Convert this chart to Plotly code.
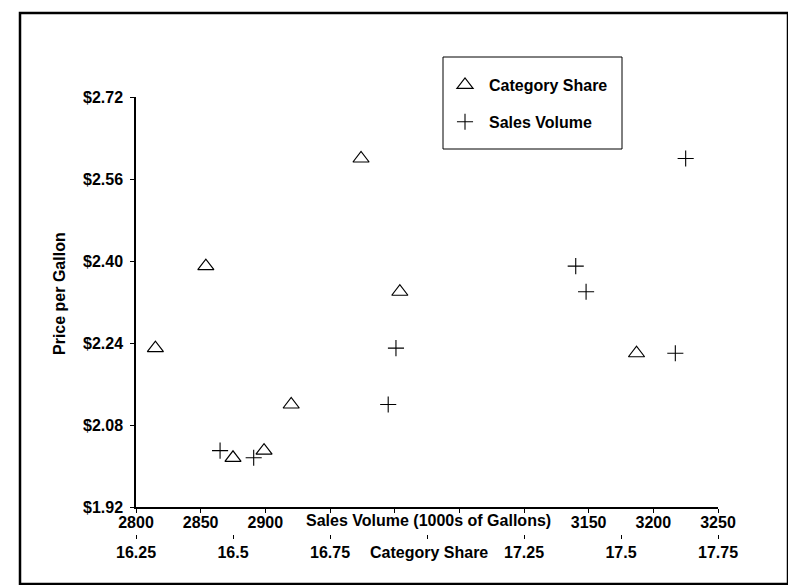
import plotly.graph_objects as go

# ---- data ----
price_per_gallon = [2.60, 2.39, 2.34, 2.23, 2.22, 2.12, 2.03, 2.016]
category_share = [16.83, 16.43, 16.93, 16.30, 17.54, 16.65, 16.58, 16.50]
sales_volume = [3225, 3140, 3148, 3001, 3217, 2995, 2865, 2891]

sales_tick_values = [2800, 2850, 2900, 2950, 3000, 3050, 3100, 3150, 3200, 3250]
sales_tick_labels = ["2800", "2850", "2900", "", "", "", "", "3150", "3200", "3250"]
share_tick_values = [16.25, 16.5, 16.75, 17.0, 17.25, 17.5, 17.75]
share_tick_labels = ["16.25", "16.5", "16.75", "", "17.25", "17.5", "17.75"]
price_tick_values = [1.92, 2.08, 2.24, 2.40, 2.56, 2.72]
price_tick_labels = ["$1.92", "$2.08", "$2.24", "$2.40", "$2.56", "$2.72"]

FONT = "Liberation Sans, Arial, Helvetica, sans-serif"
fs = 16

# page body has an 8px margin; layout numbers below are window pixels
OFF = 8
LEFT, RIGHT, TOP, YBOT, B = 136, 718, 97, 507, 534
W = RIGHT - LEFT
H = B - TOP


def px(x):
    return (x - LEFT) / W


def py(y):
    return (B - y) / H


fig = go.Figure()
fig.add_trace(go.Scatter(
    x=category_share, y=price_per_gallon, xaxis="x2", yaxis="y",
    mode="markers", name="Category Share", legendgroup="a",
    marker=dict(symbol="triangle-up-open", size=14, color="black",
                line=dict(color="black", width=1.2)),
))
fig.add_trace(go.Scatter(
    x=sales_volume, y=price_per_gallon, xaxis="x", yaxis="y",
    mode="markers", name="Sales Volume", legendgroup="b",
    marker=dict(symbol="cross-thin-open", size=11.5, color="black",
                line=dict(color="black", width=1.1)),
))

tickfont = dict(family=FONT, size=fs, color="black", weight="bold")
axis_common = dict(showgrid=False, zeroline=False, ticks="outside", ticklen=4,
                   tickcolor="black", tickwidth=1, tickfont=tickfont)

fig.update_layout(
    width=796, height=585,
    margin=dict(l=LEFT - OFF, r=796 - (RIGHT - OFF), t=TOP - OFF, b=585 - (B - OFF)),
    paper_bgcolor="white", plot_bgcolor="white",
    font=dict(family=FONT, size=fs, color="black"),
    xaxis=dict(range=[2800, 3250], tickmode="array", tickvals=sales_tick_values,
               ticktext=sales_tick_labels, anchor="y", showline=True,
               linecolor="black", linewidth=1.5, ticklabelstandoff=-4,
               **axis_common),
    xaxis2=dict(range=[16.25, 17.75], tickmode="array", tickvals=share_tick_values,
                ticktext=share_tick_labels, overlaying="x", anchor="free",
                position=0, side="bottom", showline=False, ticklabelstandoff=0,
                **axis_common),
    yaxis=dict(range=[1.92, 2.72], domain=[py(YBOT), 1], tickmode="array",
               tickvals=price_tick_values, ticktext=price_tick_labels,
               showline=True, linecolor="black", linewidth=1.5,
               ticklabelstandoff=4, **axis_common),
    showlegend=True,
    legend=dict(x=px(441), y=py(68), xanchor="left", yanchor="top",
                borderwidth=0, bgcolor="rgba(0,0,0,0)",
                tracegroupgap=13, itemwidth=38,
                font=dict(family=FONT, size=fs, color="black", weight="bold")),
    shapes=[
        dict(type="rect", xref="paper", yref="paper",
             x0=px(20), x1=px(788), y0=py(584), y1=py(13),
             line=dict(color="black", width=2.5)),
        dict(type="rect", xref="paper", yref="paper",
             x0=px(443), x1=px(622), y0=py(149), y1=py(57),
             line=dict(color="black", width=1)),
    ],
    annotations=[
        dict(text="Sales Volume (1000s of Gallons)", xref="paper", yref="paper",
             x=px(428), y=py(520), showarrow=False,
             xanchor="center", yanchor="middle", font=tickfont),
        dict(text="Category Share", xref="paper", yref="paper",
             x=px(429), y=py(552), showarrow=False,
             xanchor="center", yanchor="middle", font=tickfont),
        dict(text="Price per Gallon", xref="paper", yref="paper",
             x=px(59), y=py(294), showarrow=False, textangle=-90,
             xanchor="center", yanchor="middle", font=tickfont),
    ],
)

fig.write_html("out.html")
